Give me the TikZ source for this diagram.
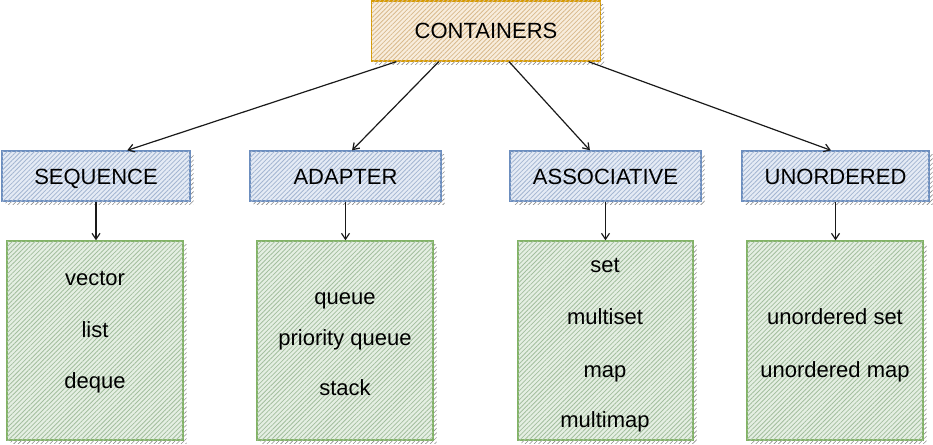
\documentclass[tikz,border=0pt]{standalone}
\usepackage{fontspec}
\setmainfont{Liberation Sans}
\usetikzlibrary{patterns.meta,arrows.meta,calc}
\definecolor{orbd}{HTML}{D79B00}
\definecolor{orfl}{HTML}{E9C48F}
\definecolor{blbd}{HTML}{6C8EBF}
\definecolor{blfl}{HTML}{A9BEDF}
\definecolor{grbd}{HTML}{82B366}
\definecolor{grfl}{HTML}{A9C9A3}
\definecolor{ink}{HTML}{1A1A1A}
\tikzset{
  sketchbox/.style 2 args={draw=#1, line width=1.3pt, fill=#2!30!white,
    preaction={draw=none, pattern={Lines[angle=45,distance=3.2pt,line width=0.6pt]},
      pattern color=gray!90, transform canvas={xshift=3.5pt,yshift=-3.5pt}},
    postaction={pattern={Lines[angle=45,distance=3.2pt,line width=0.8pt]}, pattern color=#2!85!gray}},
  topbox/.style={sketchbox={orbd}{orfl}, minimum width=229pt, minimum height=60pt,
    text height=16pt, text depth=0pt, inner sep=0pt, font=\fontsize{22}{26}\selectfont},
  midbox/.style={sketchbox={blbd}{blfl}, minimum height=50pt,
    text height=16pt, text depth=0pt, inner sep=0pt, font=\fontsize{22}{26}\selectfont},
  listbox/.style={sketchbox={grbd}{grfl}, minimum height=199pt, minimum width=176pt, inner sep=0pt},
  item/.style={anchor=base, inner sep=0pt, font=\fontsize{22}{26}\selectfont},
  conn/.style={draw=ink, line width=1.2pt, -{Straight Barb[length=6pt,width=8pt]}}
}
\begin{document}
\begin{tikzpicture}[x=1pt,y=-1pt]
\useasboundingbox (0,0) rectangle (933,444);
% boxes
\node[topbox] (cont) at (486,31) {CONTAINERS};
\node[midbox, minimum width=188pt] (seq) at (96,176) {SEQUENCE};
\node[midbox, minimum width=191pt] (adp) at (345.5,176) {ADAPTER};
\node[midbox, minimum width=191pt] (asc) at (605.5,176) {ASSOCIATIVE};
\node[midbox, minimum width=187pt] (uno) at (835.5,176) {UNORDERED};
\node[listbox] (gseq) at (95,340.5) {};
\node[listbox] (gadp) at (345,340.5) {};
\node[listbox, minimum width=175pt] (gasc) at (605.5,340.5) {};
\node[listbox] (guno) at (835,340.5) {};
% items
\node[item] (t1) at (95,285) {vector};
\node[item] (t2) at (95,337) {list};
\node[item] (t3) at (95,388) {deque};
\node[item] (t4) at (345,304) {queue};
\node[item] (t5) at (345,345) {priority queue};
\node[item] (t6) at (345,395) {stack};
\node[item] (t7) at (605,272) {set};
\node[item] (t8) at (605,324) {multiset};
\node[item] (t9) at (605,377) {map};
\node[item] (t10) at (605,427) {multimap};
\node[item] (t11) at (835,324) {unordered set};
\node[item] (t12) at (835,377) {unordered map};
% connectors
\draw[conn] ($(cont.south west)!0.111!(cont.south east)$) -- ($(seq.north west)!0.665!(seq.north east)$);
\draw[conn] ($(cont.south west)!0.295!(cont.south east)$) -- ($(adp.north west)!0.534!(adp.north east)$);
\draw[conn] ($(cont.south west)!0.600!(cont.south east)$) -- ($(asc.north west)!0.419!(asc.north east)$);
\draw[conn] ($(cont.south west)!0.945!(cont.south east)$) -- ($(uno.north west)!0.476!(uno.north east)$);
\draw[conn] (seq.south) -- (seq.south |- gseq.north);
\draw[conn] (adp.south) -- (adp.south |- gadp.north);
\draw[conn] (asc.south) -- (asc.south |- gasc.north);
\draw[conn] (uno.south) -- (uno.south |- guno.north);
\end{tikzpicture}
\end{document}
